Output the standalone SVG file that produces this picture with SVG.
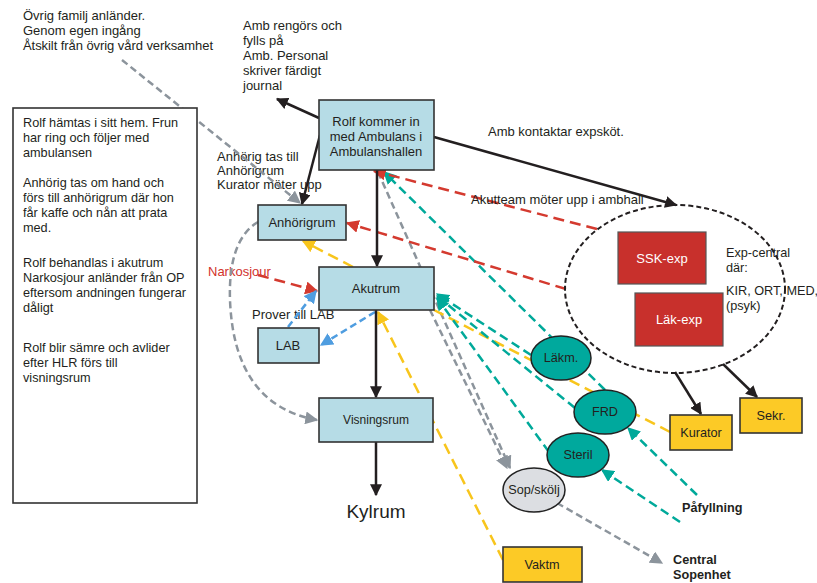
<svg xmlns="http://www.w3.org/2000/svg" width="817" height="583" viewBox="0 0 817 583">
  <style>
    text { font-family: "Liberation Sans", Arial, sans-serif; font-size: 13px; fill: #231f20; }
    .c { text-anchor: middle; }
    .b { font-weight: bold; }
    .s { font-size: 12.7px; }
    .w { fill: #ffffff; font-size: 13px; }
    .room { fill: #b6dce6; stroke: #333333; stroke-width: 1.6; }
    .exp { fill: #c8302c; stroke: #555555; stroke-width: 1.2; }
    .yel { fill: #fcca26; stroke: #333333; stroke-width: 1.6; }
    .oval { fill: #00a99d; stroke: #222222; stroke-width: 1.5; }
    .sop { fill: #dcdee2; stroke: #222222; stroke-width: 1.5; }
    .k { stroke: #231f20; stroke-width: 2.5; fill: none; }
    .r { stroke: #d43a2f; stroke-width: 2.5; fill: none; stroke-dasharray: 11 6; }
    .y { stroke: #f8c51c; stroke-width: 2.5; fill: none; stroke-dasharray: 11 6; }
    .t { stroke: #00a99a; stroke-width: 2.5; fill: none; stroke-dasharray: 9 5; }
    .g { stroke: #8c949c; stroke-width: 2.5; fill: none; stroke-dasharray: 7 4; }
    .bl { stroke: #4f9de0; stroke-width: 2.5; fill: none; stroke-dasharray: 7 4; }
  </style>
  <defs>
    <marker id="ah-k" viewBox="0 0 10 10" refX="9" refY="5" markerWidth="12" markerHeight="12" markerUnits="userSpaceOnUse" orient="auto"><path d="M0,0 L10,5 L0,10 z" fill="#231f20"/></marker>
    <marker id="ah-r" viewBox="0 0 10 10" refX="9" refY="5" markerWidth="13" markerHeight="13" markerUnits="userSpaceOnUse" orient="auto"><path d="M0,0 L10,5 L0,10 z" fill="#d43a2f"/></marker>
    <marker id="ah-y" viewBox="0 0 10 10" refX="9" refY="5" markerWidth="13" markerHeight="13" markerUnits="userSpaceOnUse" orient="auto"><path d="M0,0 L10,5 L0,10 z" fill="#f8c51c"/></marker>
    <marker id="ah-t" viewBox="0 0 10 10" refX="9" refY="5" markerWidth="13" markerHeight="13" markerUnits="userSpaceOnUse" orient="auto"><path d="M0,0 L10,5 L0,10 z" fill="#00a99a"/></marker>
    <marker id="ah-g" viewBox="0 0 10 10" refX="9" refY="5" markerWidth="13" markerHeight="13" markerUnits="userSpaceOnUse" orient="auto"><path d="M0,0 L10,5 L0,10 z" fill="#8c949c"/></marker>
    <marker id="ah-b" viewBox="0 0 10 10" refX="9" refY="5" markerWidth="13" markerHeight="13" markerUnits="userSpaceOnUse" orient="auto"><path d="M0,0 L10,5 L0,10 z" fill="#4f9de0"/></marker>
  </defs>

  <rect width="817" height="583" fill="#ffffff"/>

  <!-- free labels -->
  <g id="labels">
    <text x="23" y="20">Övrig familj anländer.</text>
    <text x="23" y="35">Genom egen ingång</text>
    <text x="23" y="50" textLength="190" lengthAdjust="spacing">Åtskilt från övrig vård verksamhet</text>
    <text x="243" y="30">Amb rengörs och</text>
    <text x="243" y="45">fylls på</text>
    <text x="243" y="60">Amb. Personal</text>
    <text x="243" y="75">skriver färdigt</text>
    <text x="243" y="90">journal</text>
    <text x="488" y="136">Amb kontaktar expsköt.</text>
    <text x="217" y="161">Anhörig tas till</text>
    <text x="217" y="175">Anhörigrum</text>
    <text x="217" y="189">Kurator möter upp</text>
    <text x="208" y="276" style="fill:#d2312b">Narkosjour</text>
    <text x="252" y="319">Prover till LAB</text>
    <text x="376" y="518" class="c" style="font-size:19px">Kylrum</text>
    <text x="682" y="512" class="b s">Påfyllning</text>
    <text x="673" y="564" class="b s">Central</text>
    <text x="673" y="579" class="b s">Sopenhet</text>
  </g>

  <!-- connectors -->
  <g id="connectors">
    <!-- grey: family route, mortuary path, waste -->
    <line class="g" x1="122" y1="60" x2="300" y2="203" marker-end="url(#ah-g)"/>
    <path class="g" d="M258,222 Q228,240 230,300 Q234,405 317,420" marker-end="url(#ah-g)"/>
    <line class="g" x1="378" y1="172" x2="510" y2="468" marker-end="url(#ah-g)"/>
    <line class="g" x1="430" y1="310" x2="507" y2="468" marker-end="url(#ah-g)"/>
    <line class="g" x1="557" y1="503" x2="662" y2="563" marker-end="url(#ah-g)"/>

    <!-- yellow -->
    <line class="y" x1="353" y1="267" x2="303" y2="241" marker-end="url(#ah-y)"/>
    <line class="y" x1="503" y1="560" x2="378" y2="312" marker-end="url(#ah-y)"/>
    <line class="y" x1="670" y1="432" x2="434" y2="310"/>

    <!-- teal -->
    <line class="t" x1="605" y1="390" x2="384" y2="172" marker-end="url(#ah-t)"/>
    <line class="t" x1="531" y1="355" x2="437" y2="294" marker-end="url(#ah-t)"/>
    <line class="t" x1="575" y1="408" x2="437" y2="296" marker-end="url(#ah-t)"/>
    <line class="t" x1="549" y1="452" x2="437" y2="298" marker-end="url(#ah-t)"/>
    <line class="t" x1="697" y1="495" x2="628" y2="428" marker-end="url(#ah-t)"/>
    <line class="t" x1="680" y1="522" x2="602" y2="470" marker-end="url(#ah-t)"/>

    <!-- red -->
    <line class="r" x1="597" y1="229" x2="374" y2="171" marker-end="url(#ah-r)"/>
    <line class="r" x1="566" y1="289" x2="347" y2="223" marker-end="url(#ah-r)"/>
    <line class="r" x1="258" y1="275" x2="317" y2="291" marker-end="url(#ah-r)"/>

    <!-- blue: lab samples -->
    <line class="bl" x1="288" y1="327" x2="316" y2="291" marker-end="url(#ah-b)"/>
    <line class="bl" x1="375" y1="312" x2="321" y2="345" marker-end="url(#ah-b)"/>

    <!-- black: main patient flow -->
    <line class="k" x1="319" y1="118" x2="277" y2="99" marker-end="url(#ah-k)"/>
    <line class="k" x1="320" y1="135" x2="302" y2="204" marker-end="url(#ah-k)"/>
    <line class="k" x1="377" y1="170" x2="377" y2="266" marker-end="url(#ah-k)"/>
    <line class="k" x1="376" y1="310" x2="376" y2="397" marker-end="url(#ah-k)"/>
    <line class="k" x1="376" y1="442" x2="376" y2="495" marker-end="url(#ah-k)"/>
    <line class="k" x1="434" y1="137" x2="676" y2="205" marker-end="url(#ah-k)"/>
    <line class="k" x1="675" y1="372" x2="701" y2="414" marker-end="url(#ah-k)"/>
    <line class="k" x1="723" y1="364" x2="757" y2="397" marker-end="url(#ah-k)"/>
    <text x="471" y="204">Akutteam möter upp i ambhall</text>
  </g>

  <!-- scenario description -->
  <g id="scenario">
    <rect x="13" y="108" width="184" height="395" fill="#ffffff" stroke="#333333" stroke-width="1.6"/>
    <text class="s" x="23" y="127">Rolf hämtas i sitt hem. Frun</text>
    <text class="s" x="23" y="142">har ring och följer med</text>
    <text class="s" x="23" y="157">ambulansen</text>
    <text class="s" x="23" y="187">Anhörig tas om hand och</text>
    <text class="s" x="23" y="202">förs till anhörigrum där hon</text>
    <text class="s" x="23" y="217">får kaffe och nån att prata</text>
    <text class="s" x="23" y="232">med.</text>
    <text class="s" x="23" y="267">Rolf behandlas i akutrum</text>
    <text class="s" x="23" y="282">Narkosjour anländer från OP</text>
    <text class="s" x="23" y="297">eftersom andningen fungerar</text>
    <text class="s" x="23" y="312">dåligt</text>
    <text class="s" x="23" y="352">Rolf blir sämre och avlider</text>
    <text class="s" x="23" y="367">efter HLR förs till</text>
    <text class="s" x="23" y="382">visningsrum</text>
  </g>

  <g id="ambulanshall">
    <rect class="room" x="319" y="100" width="115" height="70"/>
    <text class="c" x="376" y="126">Rolf kommer in</text>
    <text class="c" x="376" y="141">med Ambulans i</text>
    <text class="c" x="376" y="156">Ambulanshallen</text>
  </g>
  <g id="anhorigrum">
    <rect class="room" x="258" y="205" width="88" height="35"/>
    <text class="c" x="302" y="227">Anhörigrum</text>
  </g>
  <g id="akutrum">
    <rect class="room" x="319" y="267" width="115" height="43"/>
    <text class="c" x="376" y="293">Akutrum</text>
  </g>
  <g id="lab">
    <rect class="room" x="258" y="328" width="61" height="35"/>
    <text class="c" x="288" y="350">LAB</text>
  </g>
  <g id="visningsrum">
    <rect class="room" x="319" y="398" width="114" height="44"/>
    <text class="c" x="376" y="424" style="font-size:12px">Visningsrum</text>
  </g>

  <g id="expcentral">
    <ellipse cx="675" cy="289" rx="110" ry="84" fill="none" stroke="#231f20" stroke-width="2" stroke-dasharray="5 3"/>
    <text class="s" x="726" y="257">Exp-central</text>
    <text class="s" x="726" y="272">där:</text>
    <text class="s" x="726" y="295">KIR, ORT, MED,</text>
    <text class="s" x="726" y="310">(psyk)</text>
  </g>
  <g id="ssk-exp">
    <rect class="exp" x="618" y="232" width="88" height="52"/>
    <text class="c w" x="662" y="263">SSK-exp</text>
  </g>
  <g id="lak-exp">
    <rect class="exp" x="635" y="293" width="88" height="53"/>
    <text class="c w" x="679" y="324">Läk-exp</text>
  </g>

  <g id="lakm">
    <ellipse class="oval" cx="561" cy="358" rx="30" ry="22"/>
    <text class="c s" x="561" y="362">Läkm.</text>
  </g>
  <g id="frd">
    <ellipse class="oval" cx="605" cy="412" rx="31" ry="22"/>
    <text class="c s" x="605" y="416">FRD</text>
  </g>
  <g id="steril">
    <ellipse class="oval" cx="578" cy="455" rx="31" ry="22"/>
    <text class="c s" x="578" y="459">Steril</text>
  </g>
  <g id="sopskolj">
    <ellipse class="sop" cx="534" cy="490" rx="31" ry="22"/>
    <text class="c s" x="534" y="494">Sop/skölj</text>
  </g>

  <g id="kurator">
    <rect class="yel" x="670" y="415" width="62" height="35"/>
    <text class="c s" x="701" y="437">Kurator</text>
  </g>
  <g id="sekr">
    <rect class="yel" x="740" y="398" width="62" height="35"/>
    <text class="c s" x="771" y="420">Sekr.</text>
  </g>
  <g id="vaktm">
    <rect class="yel" x="503" y="547" width="79" height="35"/>
    <text class="c s" x="542" y="569">Vaktm</text>
  </g>
</svg>
